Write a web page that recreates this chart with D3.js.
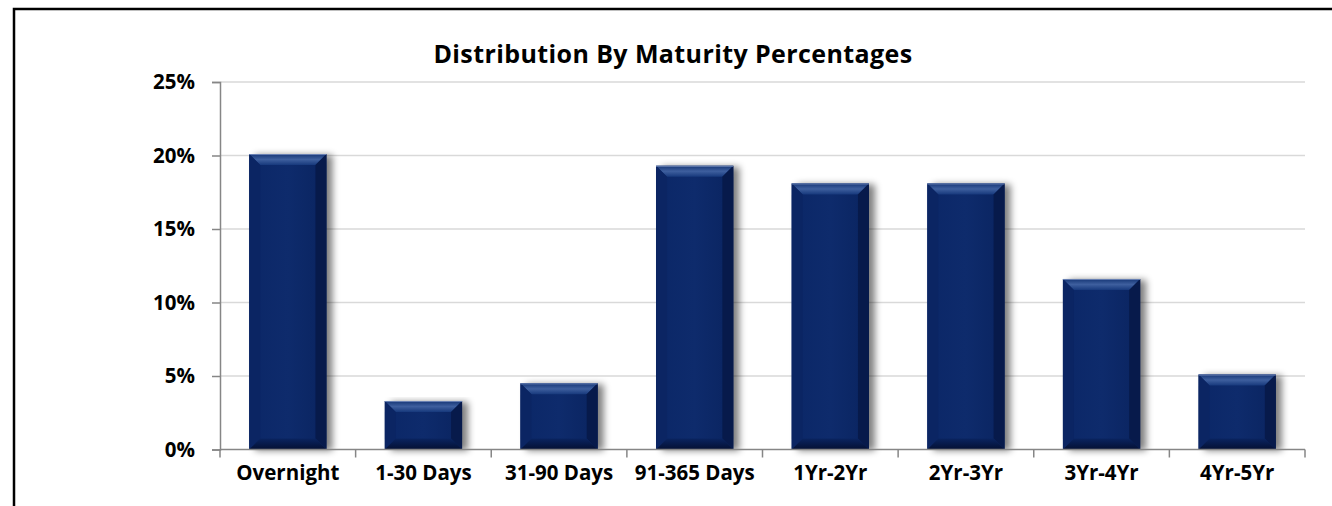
<!DOCTYPE html>
<html>
<head>
<meta charset="utf-8">
<title>Distribution By Maturity Percentages</title>
<script src="https://cdn.jsdelivr.net/npm/d3@7/dist/d3.min.js"></script>
<style>
body { margin: 0; background: #fff; }
svg text { font-family: "Open Sans", sans-serif; font-weight: bold; fill: #000; }
</style>
</head>
<body>
<svg id="chart" width="1332" height="506"></svg>
<script>
// data
var categories = ["Overnight", "1-30 Days", "31-90 Days", "91-365 Days", "1Yr-2Yr", "2Yr-3Yr", "3Yr-4Yr", "4Yr-5Yr"];
var percents = [20.1, 3.3, 4.5, 19.3, 18.1, 18.1, 11.6, 5.1];
var yTicks = [0, 5, 10, 15, 20, 25];

var svg = d3.select("#chart");
var plotLeft = 220, plotRight = 1305, plotTop = 82, plotBottom = 449.5;

// outer frame (runs off the right and bottom edges)
svg.append("rect")
	.attr("x", 14).attr("y", 9)
	.attr("width", 1400).attr("height", 600)
	.attr("fill", "none").attr("stroke", "#000").attr("stroke-width", 2.5);

svg.append("text")
	.attr("x", 673).attr("y", 63)
	.attr("text-anchor", "middle")
	.attr("font-size", "25px")
	.attr("letter-spacing", "0.4px")
	.text("Distribution By Maturity Percentages");

var x = d3.scaleBand().domain(categories).range([plotLeft, plotRight]).paddingInner(0.43).paddingOuter(0.215);
var y = d3.scaleLinear().domain([0, 25]).range([plotBottom, plotTop]);

var defs = svg.append("defs");
var shadow = defs.append("filter").attr("id", "shadow")
	.attr("x", "-20%").attr("y", "-10%").attr("width", "160%").attr("height", "130%");
shadow.append("feGaussianBlur").attr("in", "SourceAlpha").attr("stdDeviation", 3.5);
shadow.append("feOffset").attr("dx", 6).attr("dy", 1).attr("result", "blur");
shadow.append("feComponentTransfer").append("feFuncA").attr("type", "linear").attr("slope", 0.5);

var body = defs.append("linearGradient").attr("id", "body").attr("x1", 0).attr("x2", 1);
body.append("stop").attr("offset", "0%").attr("stop-color", "#0b2767");
body.append("stop").attr("offset", "50%").attr("stop-color", "#0e2b6c");
body.append("stop").attr("offset", "100%").attr("stop-color", "#0a2460");

var topBevel = defs.append("linearGradient").attr("id", "topBevel").attr("x1", 0).attr("x2", 0).attr("y1", 0).attr("y2", 1);
topBevel.append("stop").attr("offset", "0%").attr("stop-color", "#163676");
topBevel.append("stop").attr("offset", "50%").attr("stop-color", "#3e5f9e");
topBevel.append("stop").attr("offset", "100%").attr("stop-color", "#17397c");

var bottomBevel = defs.append("linearGradient").attr("id", "bottomBevel").attr("x1", 0).attr("x2", 0).attr("y1", 0).attr("y2", 1);
bottomBevel.append("stop").attr("offset", "0%").attr("stop-color", "#0a2460");
bottomBevel.append("stop").attr("offset", "100%").attr("stop-color", "#041033");

// gridlines
svg.append("g").selectAll("line").data(yTicks.slice(1)).join("line")
	.attr("x1", plotLeft).attr("x2", plotRight)
	.attr("y1", d => y(d)).attr("y2", d => y(d))
	.attr("stroke", "#d9d9d9").attr("stroke-width", 1.5);

// y axis
var yAxis = svg.append("g")
	.attr("transform", "translate(" + plotLeft + ",0)")
	.call(d3.axisLeft(y).tickValues(yTicks).tickFormat(d => d + "%").tickSize(8).tickPadding(17));
yAxis.select(".domain").attr("stroke", "#868686").attr("stroke-width", 1.5);
yAxis.selectAll(".tick line").attr("stroke", "#868686").attr("stroke-width", 1.5);
yAxis.selectAll("text").attr("font-size", "20.5px").attr("fill", "#000");

// bars
var b = 11;
var bars = svg.append("g").selectAll("g").data(categories).join("g");
bars.each(function(c, i) {
	var g = d3.select(this);
	var x0 = x(c), w = x.bandwidth(), y0 = y(percents[i]), h = plotBottom - y0;
	var bb = Math.min(b, h / 2);
	g.append("rect").attr("x", x0).attr("y", y0).attr("width", w).attr("height", h)
		.attr("fill", "#000").attr("filter", "url(#shadow)");
	g.append("rect").attr("x", x0).attr("y", y0).attr("width", w).attr("height", h).attr("fill", "url(#body)");
	// top bevel
	g.append("path").attr("d", "M" + x0 + "," + y0 + "L" + (x0 + w) + "," + y0 + "L" + (x0 + w - bb) + "," + (y0 + bb) + "L" + (x0 + bb) + "," + (y0 + bb) + "Z")
		.attr("fill", "url(#topBevel)");
	// left bevel
	g.append("path").attr("d", "M" + x0 + "," + y0 + "L" + (x0 + bb) + "," + (y0 + bb) + "L" + (x0 + bb) + "," + (plotBottom - bb) + "L" + x0 + "," + plotBottom + "Z")
		.attr("fill", "#0b2563");
	// right bevel
	g.append("path").attr("d", "M" + (x0 + w) + "," + y0 + "L" + (x0 + w - bb) + "," + (y0 + bb) + "L" + (x0 + w - bb) + "," + (plotBottom - bb) + "L" + (x0 + w) + "," + plotBottom + "Z")
		.attr("fill", "#071a4b");
	// bottom bevel
	g.append("path").attr("d", "M" + x0 + "," + plotBottom + "L" + (x0 + bb) + "," + (plotBottom - bb) + "L" + (x0 + w - bb) + "," + (plotBottom - bb) + "L" + (x0 + w) + "," + plotBottom + "Z")
		.attr("fill", "url(#bottomBevel)");
	g.append("line").attr("x1", x0).attr("x2", x0 + w).attr("y1", y0 + 0.5).attr("y2", y0 + 0.5)
		.attr("stroke", "#6a82b4").attr("stroke-width", 1);
});

// x axis
var xAxis = svg.append("g").attr("transform", "translate(0," + plotBottom + ")");
xAxis.append("line").attr("x1", plotLeft).attr("x2", plotRight).attr("stroke", "#868686").attr("stroke-width", 1.5);
var bounds = categories.map(c => x(c) - x.step() * x.paddingInner() / 2);
bounds.push(plotRight);
xAxis.selectAll(".tk").data(bounds).join("line").attr("class", "tk")
	.attr("x1", d => d).attr("x2", d => d).attr("y1", 0).attr("y2", 8)
	.attr("stroke", "#868686").attr("stroke-width", 1.5);
xAxis.selectAll("text").data(categories).join("text")
	.attr("x", d => x(d) + x.bandwidth() / 2).attr("y", 30)
	.attr("text-anchor", "middle").attr("font-size", "20.5px")
	.text(d => d);
</script>
</body>
</html>
